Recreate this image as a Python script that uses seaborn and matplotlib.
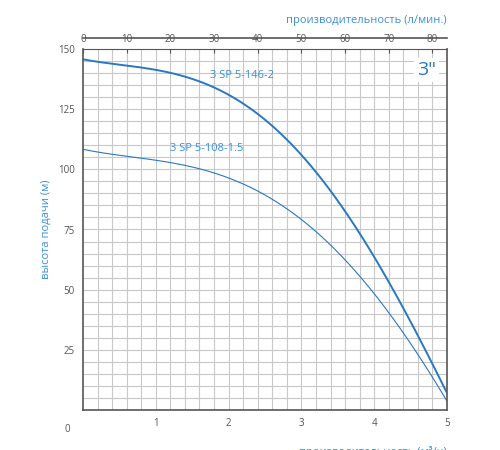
import numpy as np
import matplotlib
matplotlib.use('Agg')
import matplotlib.pyplot as plt
import seaborn as sns
import pandas as pd

# flow in m3/h and head in m
flow = [0, 0.5, 1, 1.5, 2, 2.5, 3, 3.5, 4, 4.5, 5]
head_146 = [145.5, 144, 141.5, 137, 130.5, 121.5, 106, 87, 63, 37, 7]
head_108 = [108, 106.5, 104, 100.5, 96, 89, 80, 66, 48, 27, 4]
names = ['3 SP 5-146-2', '3 SP 5-108-1.5']

blue = '#2a78c2'
txt = '#3a8fd6'

sns.set_style('white')
plt.rcParams['font.family'] = ['Open Sans', 'DejaVu Sans']

df = pd.concat([
    pd.DataFrame({'flow': flow, 'head': head_146, 'pump': names[0]}),
    pd.DataFrame({'flow': flow, 'head': head_108, 'pump': names[1]}),
])

fig = plt.figure(figsize=(5, 4.5), dpi=100)
ax = fig.add_axes([0.166, 0.089, 0.728, 0.802])

# grid
for v in np.arange(0.2, 5, 0.2):
    ax.axvline(v, color='#c8c8c8', lw=0.8, zorder=0)
for h in np.arange(5, 150, 5):
    ax.axhline(h, color='#c8c8c8', lw=0.8, zorder=0)

xs = np.linspace(0, 5, 200)
for name, lw in [(names[0], 1.4), (names[1], 0.8)]:
    s = df[df.pump == name]
    c = np.polyfit(s['flow'], s['head'], 4)
    sns.lineplot(x=xs, y=np.polyval(c, xs), ax=ax, color=blue, lw=lw)

ax.text(1.75, 138, names[0], color=txt, fontsize=8)
ax.text(1.2, 107.5, names[1], color=txt, fontsize=8)
ax.text(4.85, 145, '3"', color=blue, fontsize=14, ha='right', va='top',
        bbox=dict(fc='white', ec='none', pad=2))

ax.set_xlim(0, 5)
ax.set_ylim(0, 150)
ax.set_xticks(range(1, 6))
ax.set_yticks([25, 50, 75, 100, 125, 150])
ax.tick_params(length=0, labelsize=7, colors='#555555', pad=6)
for sp in ax.spines.values():
    sp.set_color('#555555')
    sp.set_linewidth(1.2)
ax.set_ylabel('высота подачи (м)', color=txt, fontsize=8)
ax.set_xlabel('производительность (м³/ч)', color=txt, fontsize=8, loc='right', labelpad=12)
ax.text(-0.22, -6, '0', color='#555555', fontsize=7, ha='center', va='top')

top = ax.secondary_xaxis('top', functions=(lambda x: x / 3.6 * 60, lambda x: x * 3.6 / 60))
top.set_xticks(range(0, 81, 10))
top.tick_params(labelsize=7, colors='#555555', direction='in', length=3, pad=3)
top.spines['top'].set_color('#555555')
top.set_xlabel('производительность (л/мин.)', color=txt, fontsize=8, loc='right', labelpad=8)
ax.spines['top'].set_position(('outward', 8))

fig.savefig('out.png', dpi=100)
